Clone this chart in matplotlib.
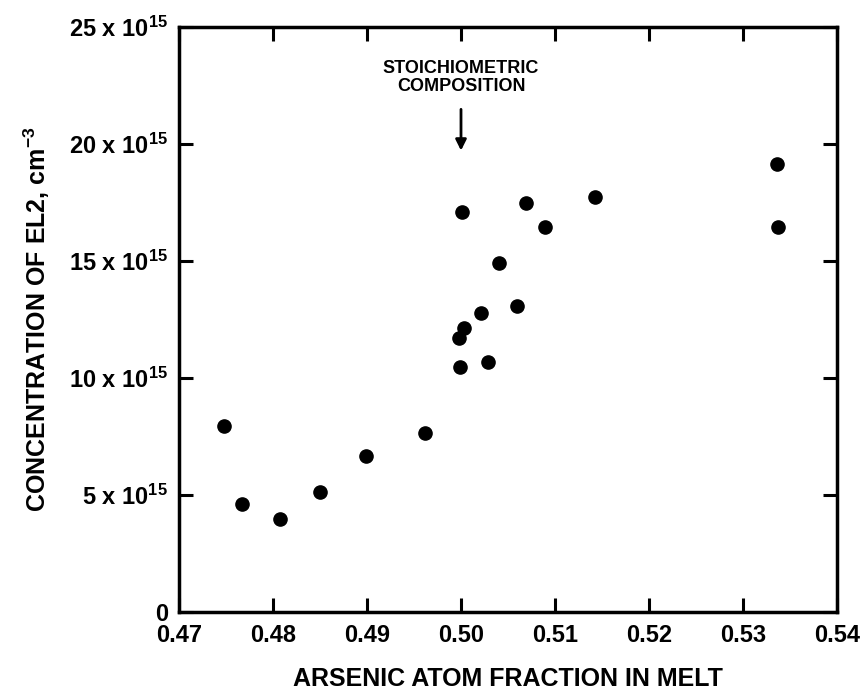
import matplotlib
matplotlib.use("Agg")
import matplotlib.pyplot as plt

plt.rcParams['font.family'] = ['Liberation Sans', 'DejaVu Sans']
plt.rcParams['font.weight'] = 'bold'
plt.rcParams['mathtext.fontset'] = 'custom'
plt.rcParams['mathtext.rm'] = 'Liberation Sans:bold'
plt.rcParams['mathtext.bf'] = 'Liberation Sans:bold'
plt.rcParams['mathtext.it'] = 'Liberation Sans:bold'
plt.rcParams['mathtext.default'] = 'rm'

arsenic_fraction = [0.4748, 0.4767, 0.4807, 0.4850, 0.4899, 0.4962,
                    0.5001, 0.5069, 0.5143, 0.5336, 0.5089, 0.5337,
                    0.5040, 0.5060, 0.5021, 0.5003, 0.4998, 0.5029, 0.4999]
el2_conc = [7.95, 4.60, 3.97, 5.14, 6.65, 7.66,
            17.09, 17.47, 17.72, 19.15, 16.47, 16.44,
            14.93, 13.09, 12.79, 12.12, 11.72, 10.70, 10.46]

x_ticks = [0.47, 0.48, 0.49, 0.50, 0.51, 0.52, 0.53, 0.54]
x_tick_labels = ['0.47', '0.48', '0.49', '0.50', '0.51', '0.52', '0.53', '0.54']
y_ticks = [0, 5, 10, 15, 20, 25]
y_tick_labels = ['0', r'5 x 10$^{15}$', r'10 x 10$^{15}$', r'15 x 10$^{15}$',
                 r'20 x 10$^{15}$', r'25 x 10$^{15}$']

fig = plt.figure(figsize=(8.62, 6.94), dpi=100)
ax = fig.add_axes([179/862, 1-612/694, (837-179)/862, (612-27)/694])

ax.plot(arsenic_fraction, el2_conc, 'o', color='black', markersize=9.5, linestyle='none')

ax.set_xlim(0.47, 0.54)
ax.set_ylim(0, 25)
ax.set_xticks(x_ticks)
ax.set_xticklabels(x_tick_labels, fontsize=17, fontweight='bold')
ax.set_yticks(y_ticks)
ax.set_yticklabels(y_tick_labels, fontsize=17, fontweight='bold')
ax.tick_params(direction='in', length=10, width=2.2, top=True, right=True,
               colors='black')
ax.tick_params(axis='x', pad=9)
ax.tick_params(axis='y', pad=8)
for s in ax.spines.values():
    s.set_linewidth(2.5)

ax.set_xlabel('ARSENIC ATOM FRACTION IN MELT', fontsize=18, fontweight='bold', labelpad=14)
ax.set_ylabel(r'CONCENTRATION OF EL2, cm$^{-3}$', fontsize=18, fontweight='bold', labelpad=12)

ax.text(0.5, 22.85, 'STOICHIOMETRIC\nCOMPOSITION', ha='center', va='center',
        fontsize=13, fontweight='bold', linespacing=1.05)
ax.annotate('', xy=(0.5, 19.6), xytext=(0.5, 21.6),
            arrowprops=dict(arrowstyle='-|>', color='black', lw=2, mutation_scale=16))

fig.savefig('out.png', dpi=100)
